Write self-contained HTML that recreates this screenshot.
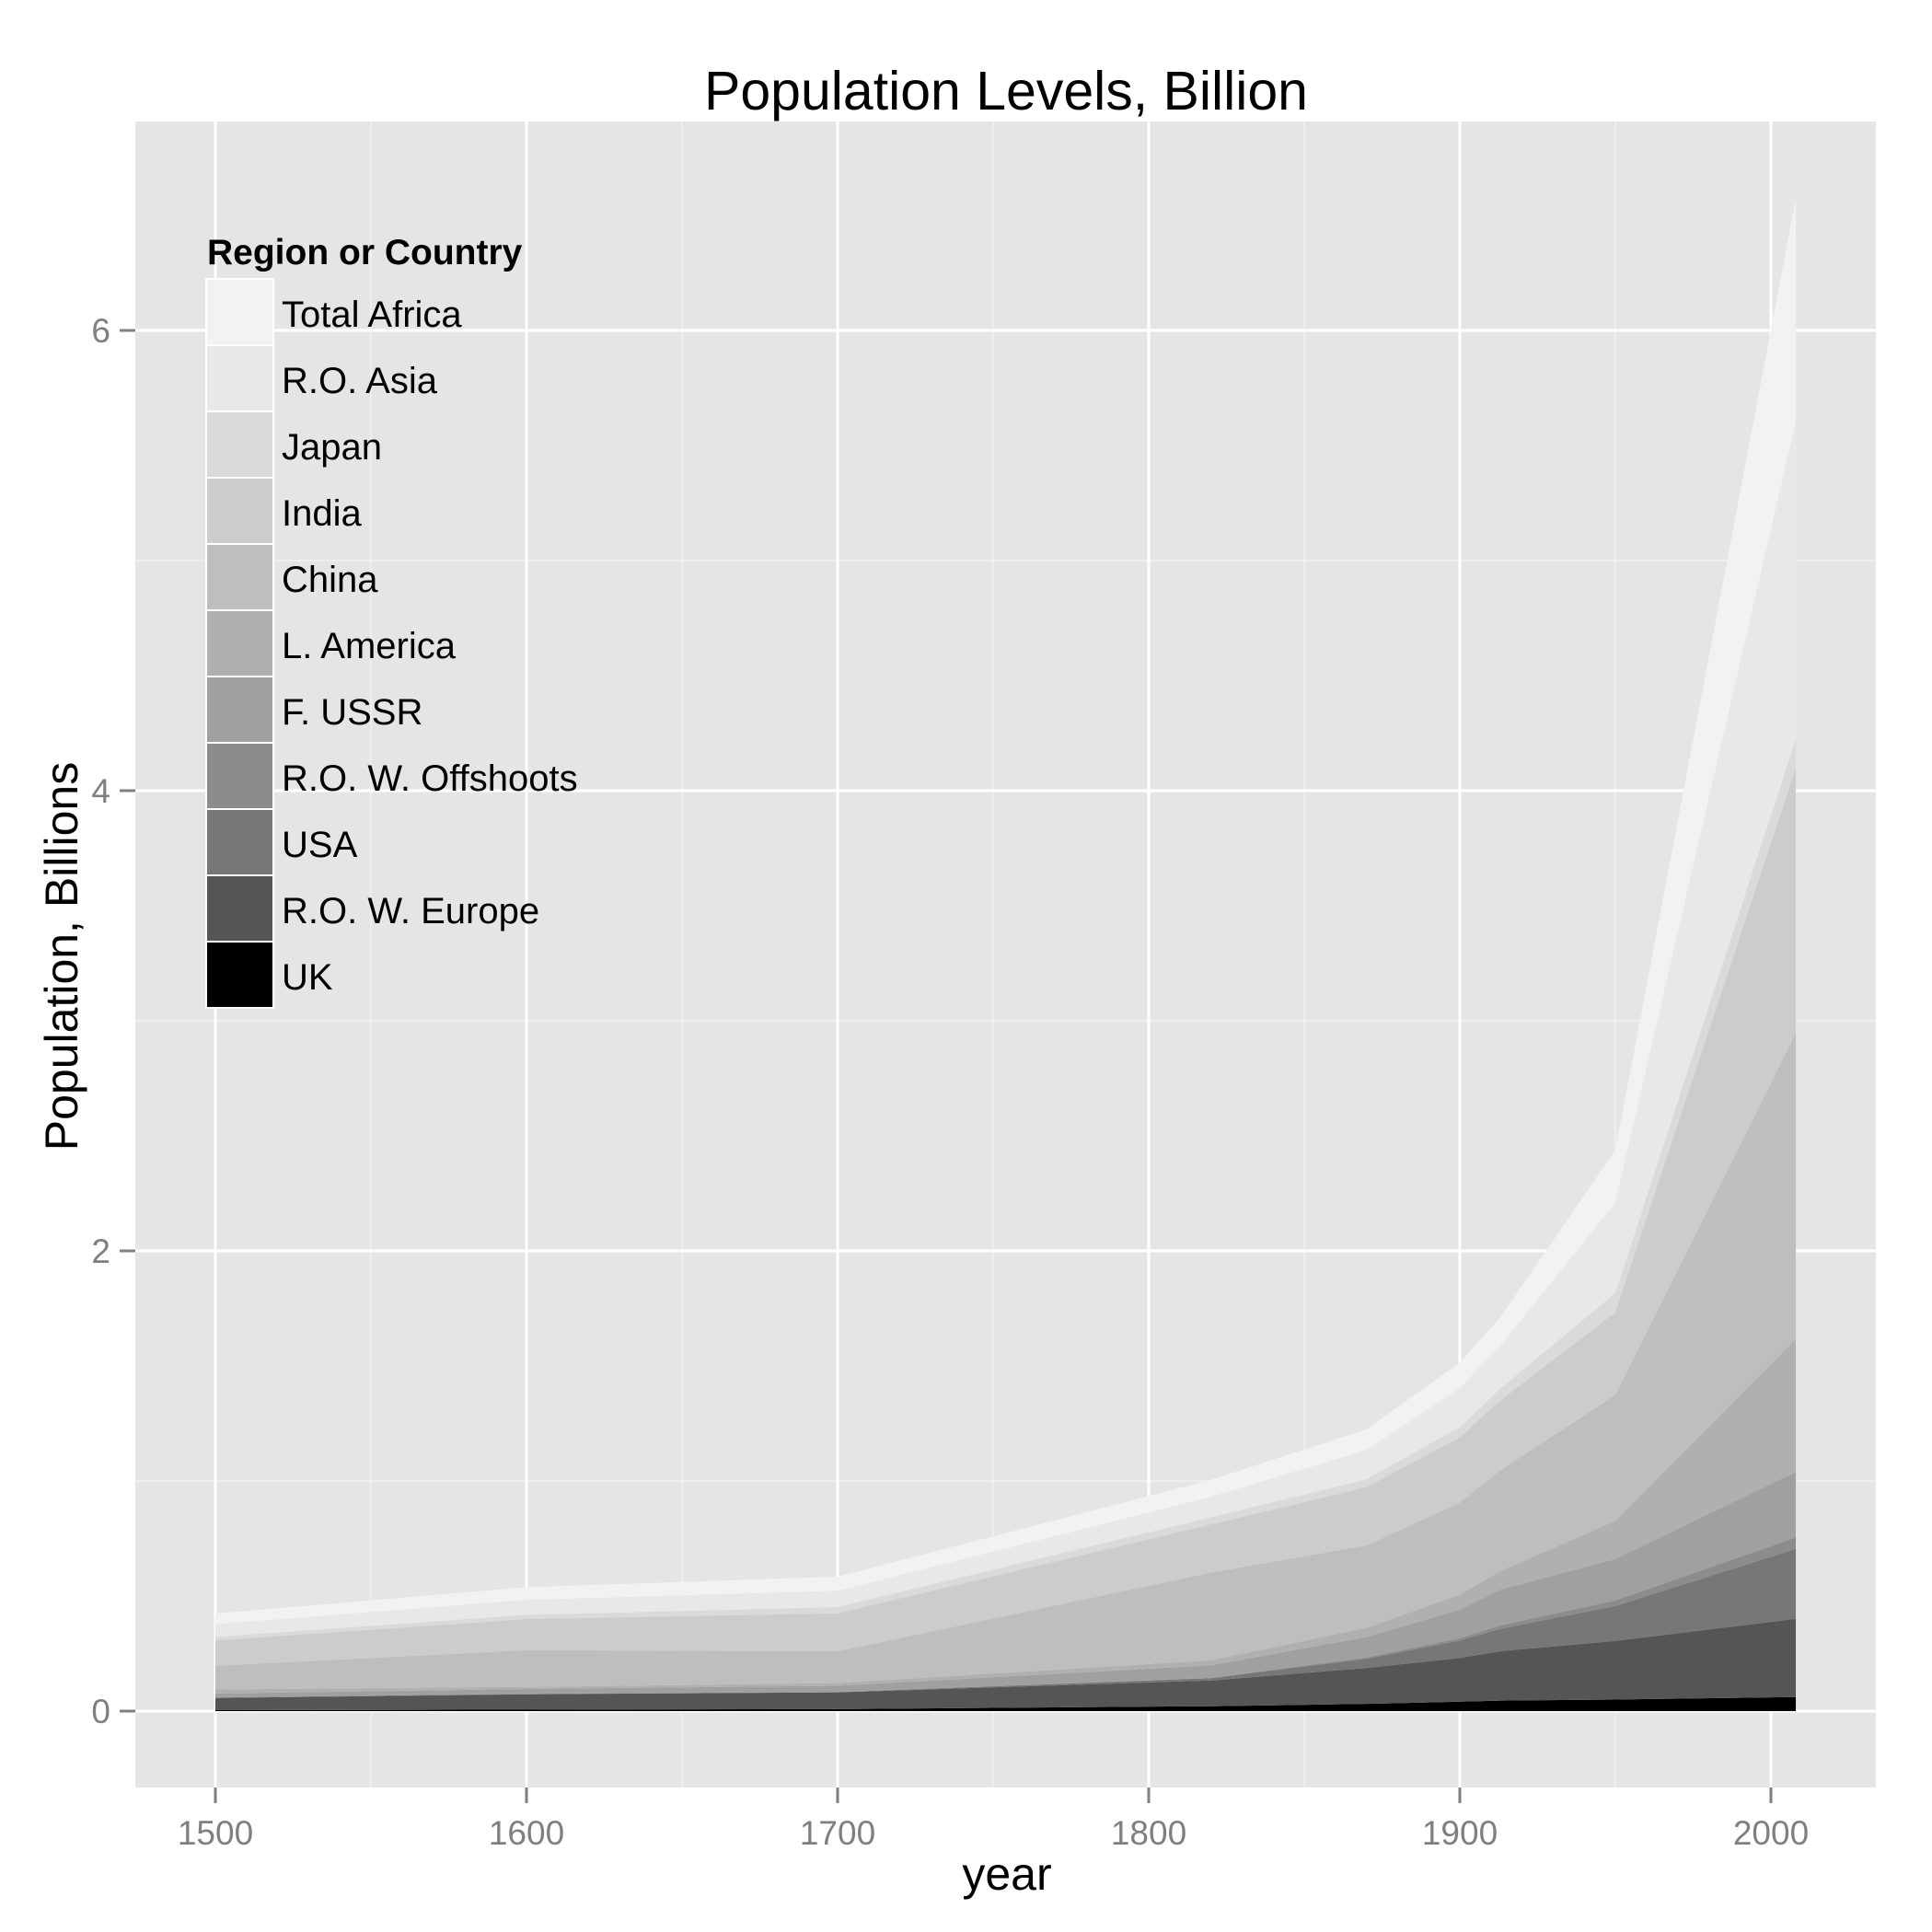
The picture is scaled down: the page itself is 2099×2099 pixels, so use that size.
<!DOCTYPE html>
<html><head><meta charset="utf-8"><style>
html,body{margin:0;padding:0;background:#fff;}
svg{display:block;font-family:"Liberation Sans",Arial,sans-serif;}
</style></head><body>
<svg id="chart" width="2099" height="2099" viewBox="0 0 2099 2099" xmlns="http://www.w3.org/2000/svg">
<rect x="0" y="0" width="2099" height="2099" fill="#fff"/>
<rect x="147" y="132" width="1891" height="1810" fill="#e5e5e5"/>
<g id="grid"></g>
<g id="areas"></g>
<g id="axes"></g>
<g id="legend"></g>
<text x="1093" y="119" font-size="59" text-anchor="middle" fill="#000">Population Levels, Billion</text>
<text x="1094" y="2053" font-size="50" text-anchor="middle" fill="#000">year</text>
<text transform="translate(84,1039) rotate(-90)" font-size="50" text-anchor="middle" fill="#000">Population, Billions</text>
</svg>
<script>
const years = [1500, 1600, 1700, 1820, 1870, 1900, 1913, 1950, 2008];
const seriesNames = ["UK","R.O. W. Europe","USA","R.O. W. Offshoots","F. USSR","L. America","China","India","Japan","R.O. Asia","Total Africa"];
// millions
const ukVals        = [3.9, 6.2, 8.6, 21.2, 31.4, 41, 45.6, 50.1, 61];
const roweVals      = [53, 67, 73, 112, 156, 190, 215, 255, 340];
const usaVals       = [2, 1.5, 1, 10, 40, 76, 97.6, 152, 304];
const offshootVals  = [0.8, 0.8, 0.75, 1.2, 6, 10, 13.8, 24, 50];
const ussrVals      = [16.9, 20.7, 26.6, 54.8, 88.7, 124, 156, 180, 285];
const latamVals     = [17.5, 8.6, 12, 21.6, 40, 65, 81, 166, 577];
const chinaVals     = [103, 160, 138, 381, 358, 400, 437, 547, 1330];
const indiaVals     = [110, 135, 165, 209, 253, 284, 303.7, 359, 1150];
const japanVals     = [15.4, 18.5, 27, 31, 34.4, 44, 51.7, 84, 127];
const roAsiaVals    = [55, 65, 71, 89, 127, 170, 185, 393, 1380];
const africaVals    = [46.6, 55.3, 61, 74, 90.5, 110, 124.7, 228, 970];
const xTicks = [1500, 1600, 1700, 1800, 1900, 2000];
const yTicks = [0, 2, 4, 6];
const yTickLabels = ["0", "2", "4", "6"];

const allSeries = [ukVals, roweVals, usaVals, offshootVals, ussrVals, latamVals, chinaVals, indiaVals, japanVals, roAsiaVals, africaVals];
const fills = ["#000000","#555555","#777777","#8c8c8c","#a0a0a0","#b0b0b0","#bebebe","#cccccc","#dadada","#e8e8e8","#f2f2f2"];
const NS = "http://www.w3.org/2000/svg";
function xScale(v){ return 234 + (v - 1500) * 3.38; }
function yScale(v){ return 1859 - v * 250; }
function mk(tag, attrs, parent){ const e = document.createElementNS(NS, tag); for (const k in attrs) e.setAttribute(k, attrs[k]); parent.appendChild(e); return e; }

const grid = document.getElementById('grid');
for (let y = 1550; y <= 2000; y += 100) {
  const l = mk('line', {x1: xScale(y), x2: xScale(y), y1: 132, y2: 1942, stroke: '#f2f2f2', 'stroke-width': 1.5}, grid);
  
  
}
for (let v = 1; v <= 5; v += 2) {
  const l = mk('line', {x1: 147, x2: 2038, y1: yScale(v), y2: yScale(v), stroke: '#f2f2f2', 'stroke-width': 1.5}, grid);
  
  
}
xTicks.forEach(t => {
  const l = mk('line', {x1: xScale(t), x2: xScale(t), y1: 132, y2: 1942, stroke: '#fff', 'stroke-width': 3}, grid);
  
  
});
yTicks.forEach(t => {
  const l = mk('line', {x1: 147, x2: 2038, y1: yScale(t), y2: yScale(t), stroke: '#fff', 'stroke-width': 3}, grid);
  
  
});

const areas = document.getElementById('areas');
let lower = years.map(() => 0);
allSeries.forEach((s, i) => {
  const upper = lower.map((b, j) => b + s[j] / 1000);
  let pts = years.map((y, j) => xScale(y) + ',' + yScale(upper[j]));
  for (let j = years.length - 1; j >= 0; j--) pts.push(xScale(years[j]) + ',' + yScale(lower[j]));
  const p = mk('polygon', {points: pts.join(' '), fill: fills[i]}, areas);
  
  
  lower = upper;
});

const axes = document.getElementById('axes');
xTicks.forEach(t => {
  const tk = mk('line', {x1: xScale(t), x2: xScale(t), y1: 1942, y2: 1959, stroke: '#7f7f7f', 'stroke-width': 3}, axes);
  
  
  const tx = mk('text', {x: xScale(t), y: 2004, 'font-size': 37, 'text-anchor': 'middle', fill: '#7f7f7f'}, axes);
  tx.textContent = String(t);
  
  
});
yTicks.forEach((t, i) => {
  const tk = mk('line', {x1: 130, x2: 147, y1: yScale(t), y2: yScale(t), stroke: '#7f7f7f', 'stroke-width': 3}, axes);
  
  
  const tx = mk('text', {x: 120, y: yScale(t) + 13, 'font-size': 37, 'text-anchor': 'end', fill: '#7f7f7f'}, axes);
  tx.textContent = yTickLabels[i];
  
  
});

const legend = document.getElementById('legend');


const lt = mk('text', {x: 225, y: 287, 'font-size': 39, 'font-weight': 'bold', fill: '#000'}, legend);
lt.textContent = 'Region or Country';


for (let k = 0; k < seriesNames.length; k++) {
  const i = seriesNames.length - 1 - k;
  const top = 303 + k * 72;
  const r = mk('rect', {x: 224, y: top, width: 73, height: 72, fill: fills[i], stroke: '#fff', 'stroke-width': 2}, legend);
  
  
  const t = mk('text', {x: 306, y: top + 52, 'font-size': 40, fill: '#000'}, legend);
  t.textContent = seriesNames[i];
  
  
}
</script>
</body></html>
